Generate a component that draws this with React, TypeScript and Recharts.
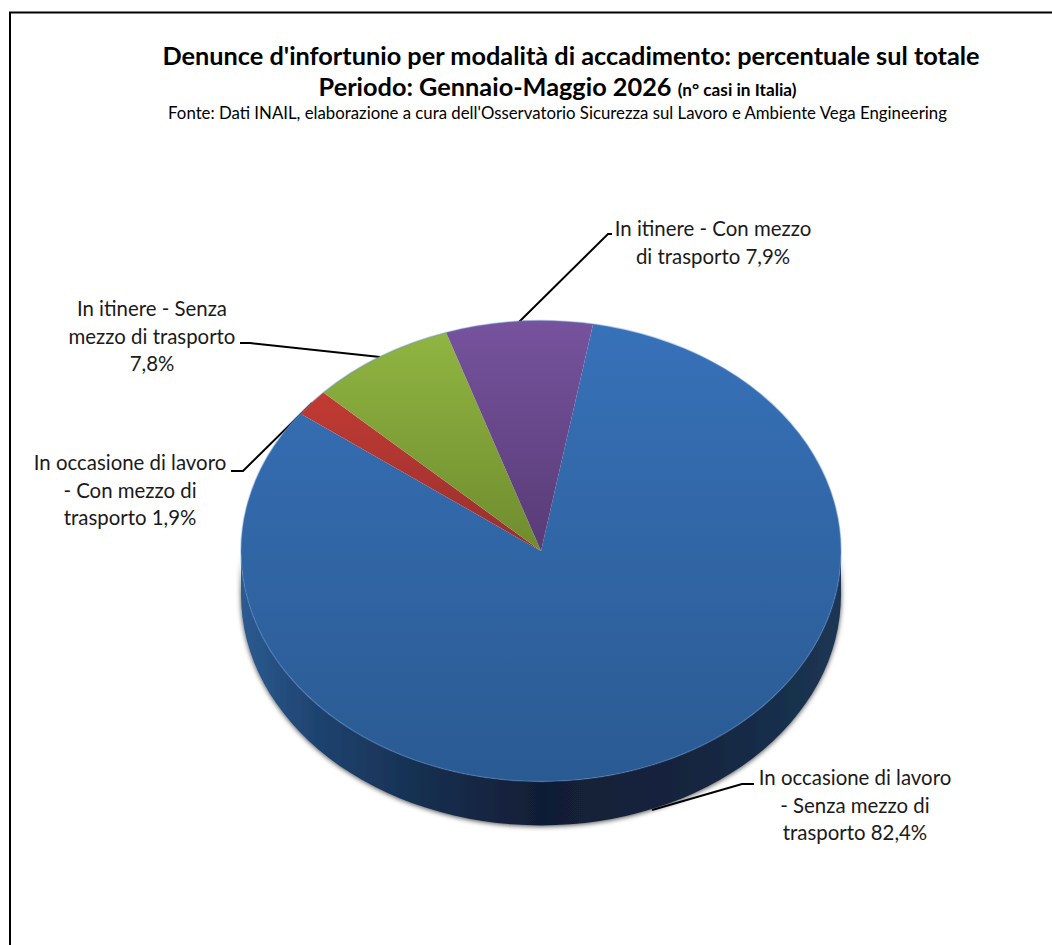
import { PieChart, Pie } from "recharts";

const categories = [
  "In occasione di lavoro - Senza mezzo di trasporto",
  "In occasione di lavoro - Con mezzo di trasporto",
  "In itinere - Senza mezzo di trasporto",
  "In itinere - Con mezzo di trasporto",
];
const values = [82.4, 1.9, 7.8, 7.9];
const topColors = [
  ["#3771b8", "#2a5a92"],
  ["#c23a33", "#96302f"],
  ["#90b542", "#6f8c2e"],
  ["#76539d", "#583b76"],
];
const labelLines = [
  ["In occasione di lavoro", "- Senza mezzo di", "trasporto 82,4%"],
  ["In occasione di lavoro", "- Con mezzo di", "trasporto 1,9%"],
  ["In itinere - Senza", "mezzo di trasporto", "7,8%"],
  ["In itinere - Con mezzo", "di trasporto 7,9%"],
];

// where the labels sit, Excel style manual layout
const labelPos = [
  { x: 855, y: 785 },
  { x: 130, y: 470 },
  { x: 152, y: 316 },
  { x: 713, y: 236 },
];
const leaders = [
  "M652 810 L742 784 L754 784",
  "M312 403 L243 471 L231 471",
  "M380 357 L250 343 L240 343",
  "M519 322 L608 234 L612 234",
];

const W = 1052;
const H = 945;
const CX = 541;
const CY = 551;
const R = 300;
const SQUASH = 0.768;
const DEPTH = 44;
const FONT = "Lato, 'Open Sans', sans-serif";

const tableData = categories.map((name, i) => ({
  name,
  value: values[i],
  fill: `url(#top${i})`,
}));

const pt = (deg: number, dy = 0) => {
  const a = (deg * Math.PI) / 180;
  return {
    x: CX + R * Math.cos(a),
    y: CY - R * SQUASH * Math.sin(a) + dy,
  };
};

// top face: an ordinary sector but squashed into an ellipse
function TopSlice(props: any) {
  const { startAngle, endAngle, fill } = props;
  const a = pt(startAngle);
  const b = pt(endAngle);
  const large = Math.abs(startAngle - endAngle) > 180 ? 1 : 0;
  const ry = R * SQUASH;
  const arc = `M${a.x} ${a.y} A${R} ${ry} 0 ${large} 1 ${b.x} ${b.y}`;
  return (
    <g>
      <path d={`M${CX} ${CY} L${a.x} ${a.y} A${R} ${ry} 0 ${large} 1 ${b.x} ${b.y} Z`} fill={fill} stroke="none" />
      <path d={arc} fill="none" stroke="#5f8fcb" strokeOpacity={0.4} strokeWidth={1.5} />
    </g>
  );
}

// side wall, only the part of a slice that faces the viewer
function WallSlice(props: any) {
  const { startAngle, endAngle } = props;
  const from = Math.min(startAngle, 0);
  const to = Math.max(endAngle, -180);
  if (from <= to) return <g />;
  const ry = R * SQUASH;
  const a = pt(from);
  const b = pt(to);
  const c = pt(to, DEPTH);
  const d = pt(from, DEPTH);
  const large = from - to > 180 ? 1 : 0;
  return (
    <path
      d={`M${a.x} ${a.y} A${R} ${ry} 0 ${large} 1 ${b.x} ${b.y} L${c.x} ${c.y} A${R} ${ry} 0 ${large} 0 ${d.x} ${d.y} Z`}
      fill="url(#wall)"
      stroke="none"
      filter="url(#wallShadow)"
    />
  );
}

export default function App() {
  return (
    <div style={{ position: "absolute", left: 0, top: 0, width: W, height: H, background: "#fff" }}>
      <PieChart width={W} height={H} margin={{ top: 0, right: 0, bottom: 0, left: 0 }}>
        <defs>
          {topColors.map((c, i) => (
            <linearGradient key={i} id={`top${i}`} x1="0" y1="0" x2="0" y2="1">
              <stop offset="0%" stopColor={c[0]} />
              <stop offset="100%" stopColor={c[1]} />
            </linearGradient>
          ))}
          <linearGradient id="wall" gradientUnits="userSpaceOnUse" x1={CX - R} y1="0" x2={CX + R} y2="0">
            <stop offset="0%" stopColor="#2b5b90" />
            <stop offset="12%" stopColor="#1f4471" />
            <stop offset="30%" stopColor="#172f50" />
            <stop offset="50%" stopColor="#111e35" />
            <stop offset="75%" stopColor="#14253e" />
            <stop offset="100%" stopColor="#1b3654" />
          </linearGradient>
          <filter id="wallShadow" x="-5%" y="-10%" width="110%" height="125%">
            <feDropShadow dx="0" dy="1" stdDeviation="2.5" floodColor="#000" floodOpacity="0.7" />
          </filter>
        </defs>

        <path d={`M10 ${H} L10 12.5 L${W} 12.5`} fill="none" stroke="#000" strokeWidth={2} />

        <text x={571} y={65} textAnchor="middle" fontFamily={FONT} fontSize={25.3} fontWeight={700} fill="#000">
          Denunce d'infortunio per modalità di accadimento: percentuale sul totale
        </text>
        <text x={557.5} y={96} textAnchor="middle" fontFamily={FONT} fontWeight={700} fontSize={25.3} fill="#000">
          Periodo: Gennaio-Maggio 2026 <tspan fontSize={17.2}>(n° casi in Italia)</tspan>
        </text>
        <text x={557.5} y={119} textAnchor="middle" fontFamily={FONT} fontSize={16.8} fill="#000">
          Fonte: Dati INAIL, elaborazione a cura dell'Osservatorio Sicurezza sul Lavoro e Ambiente Vega Engineering
        </text>

        <Pie
          data={tableData}
          dataKey="value"
          nameKey="name"
          cx={CX}
          cy={CY}
          outerRadius={R}
          startAngle={80}
          endAngle={-280}
          shape={WallSlice}
          isAnimationActive={false}
          legendType="none"
        />
        <Pie
          data={tableData}
          dataKey="value"
          nameKey="name"
          cx={CX}
          cy={CY}
          outerRadius={R}
          startAngle={80}
          endAngle={-280}
          shape={TopSlice}
          isAnimationActive={false}
          legendType="none"
        />

        {leaders.map((d, i) => (
          <path key={i} d={d} fill="none" stroke="#000" strokeWidth={2} />
        ))}
        {labelLines.map((lines, i) => (
          <text key={i} textAnchor="middle" fontFamily={FONT} fontSize={20.4} fill="#1a1a1a">
            {lines.map((l, j) => (
              <tspan key={j} x={labelPos[i].x} y={labelPos[i].y + j * 27.5}>
                {l}
              </tspan>
            ))}
          </text>
        ))}
      </PieChart>
    </div>
  );
}
